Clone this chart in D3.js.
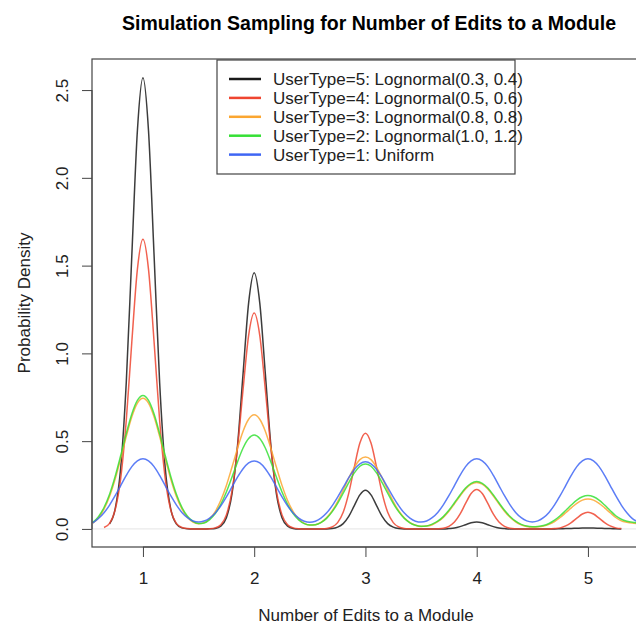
<!DOCTYPE html>
<html>
<head>
<meta charset="utf-8">
<script src="https://cdnjs.cloudflare.com/ajax/libs/d3/7.8.5/d3.min.js"></script>
<style>
  body { margin: 0; background: #fff; }
  text { font-family: "Liberation Sans", Arial, sans-serif; }
</style>
</head>
<body>
<script>
// sample positions along the x axis (every 0.05 from 0.55 to 5.45)
var xs = d3.range(99).map(function (i) { return +(0.55 + i * 0.05).toFixed(2); });

// density, one array per user type
var type5 = [null, null, null, 0.029, 0.113, 0.348, 0.834, 1.559, 2.268, 2.57,
    2.268, 1.559, 0.834, 0.348, 0.113, 0.029, 0.006, 0.001, 0, 0,
    0, 0.001, 0.003, 0.016, 0.064, 0.198, 0.474, 0.885, 1.288, 1.46,
    1.288, 0.885, 0.474, 0.198, 0.064, 0.016, 0.003, 0, 0, 0,
    0, 0, 0, 0.002, 0.010, 0.030, 0.071, 0.133, 0.194, 0.22,
    0.194, 0.133, 0.071, 0.030, 0.010, 0.002, 0, 0, 0, 0,
    0, 0, 0, 0, 0.002, 0.005, 0.013, 0.024, 0.035, 0.04,
    0.035, 0.024, 0.013, 0.005, 0.002, 0, 0, 0, 0, 0,
    0, 0, 0, 0, 0.001, 0.002, 0.003, 0.004, 0.005, 0.005,
    0.005, 0.004, 0.003, 0.002, 0.001, 0, null, null, null];

var type4 = [null, null, 0.008, 0.032, 0.108, 0.288, 0.618, 1.066, 1.479, 1.65,
    1.479, 1.066, 0.618, 0.288, 0.108, 0.032, 0.008, 0.002, 0, 0,
    0, 0.001, 0.006, 0.024, 0.080, 0.214, 0.461, 0.795, 1.103, 1.23,
    1.103, 0.795, 0.461, 0.214, 0.080, 0.024, 0.006, 0.001, 0, 0,
    0, 0.001, 0.003, 0.011, 0.036, 0.095, 0.204, 0.352, 0.489, 0.545,
    0.489, 0.352, 0.204, 0.095, 0.036, 0.011, 0.003, 0.001, 0, 0,
    0, 0, 0.001, 0.004, 0.015, 0.039, 0.084, 0.145, 0.202, 0.225,
    0.202, 0.145, 0.084, 0.039, 0.015, 0.004, 0.001, 0, 0, 0,
    0, 0, 0, 0.002, 0.006, 0.017, 0.036, 0.061, 0.085, 0.095,
    0.085, 0.061, 0.036, 0.017, 0.006, 0.002, null, null, null];

var type3 = [0.033, 0.063, 0.113, 0.186, 0.284, 0.402, 0.527, 0.639, 0.717, 0.745,
    0.717, 0.639, 0.527, 0.402, 0.284, 0.186, 0.114, 0.066, 0.039, 0.030,
    0.036, 0.058, 0.099, 0.163, 0.248, 0.351, 0.459, 0.557, 0.625, 0.65,
    0.625, 0.557, 0.459, 0.351, 0.248, 0.162, 0.099, 0.057, 0.032, 0.022,
    0.024, 0.037, 0.063, 0.102, 0.156, 0.221, 0.290, 0.351, 0.395, 0.41,
    0.395, 0.351, 0.290, 0.221, 0.156, 0.102, 0.062, 0.036, 0.021, 0.014,
    0.016, 0.024, 0.041, 0.066, 0.101, 0.143, 0.187, 0.227, 0.255, 0.265,
    0.255, 0.227, 0.187, 0.143, 0.101, 0.066, 0.040, 0.023, 0.014, 0.011,
    0.012, 0.016, 0.026, 0.042, 0.065, 0.092, 0.120, 0.146, 0.164, 0.17,
    0.164, 0.146, 0.120, 0.092, 0.065, 0.046, 0.038, 0.033, 0.031];

var type2 = [0.037, 0.070, 0.122, 0.198, 0.299, 0.418, 0.543, 0.655, 0.732, 0.76,
    0.732, 0.655, 0.543, 0.418, 0.299, 0.199, 0.123, 0.072, 0.043, 0.031,
    0.034, 0.053, 0.087, 0.140, 0.210, 0.294, 0.382, 0.461, 0.515, 0.535,
    0.515, 0.461, 0.382, 0.294, 0.210, 0.140, 0.087, 0.051, 0.030, 0.022,
    0.024, 0.036, 0.060, 0.097, 0.146, 0.204, 0.264, 0.319, 0.357, 0.37,
    0.357, 0.319, 0.264, 0.204, 0.146, 0.097, 0.060, 0.035, 0.021, 0.015,
    0.017, 0.027, 0.044, 0.070, 0.106, 0.149, 0.193, 0.233, 0.260, 0.27,
    0.260, 0.233, 0.193, 0.149, 0.106, 0.071, 0.044, 0.026, 0.016, 0.013,
    0.014, 0.019, 0.031, 0.050, 0.075, 0.105, 0.136, 0.164, 0.183, 0.19,
    0.183, 0.164, 0.136, 0.105, 0.075, 0.055, 0.044, 0.038, 0.035];

var type1 = [0.035, 0.059, 0.092, 0.136, 0.189, 0.247, 0.305, 0.355, 0.388, 0.40,
    0.388, 0.355, 0.305, 0.247, 0.189, 0.137, 0.094, 0.064, 0.045, 0.039,
    0.045, 0.062, 0.091, 0.132, 0.183, 0.239, 0.295, 0.343, 0.376, 0.387,
    0.376, 0.343, 0.295, 0.239, 0.183, 0.132, 0.091, 0.062, 0.044, 0.038,
    0.044, 0.061, 0.090, 0.131, 0.181, 0.236, 0.292, 0.339, 0.371, 0.382,
    0.371, 0.339, 0.292, 0.236, 0.181, 0.131, 0.090, 0.061, 0.044, 0.039,
    0.045, 0.064, 0.094, 0.137, 0.189, 0.247, 0.305, 0.355, 0.388, 0.40,
    0.388, 0.355, 0.305, 0.247, 0.189, 0.137, 0.094, 0.064, 0.046, 0.040,
    0.046, 0.064, 0.094, 0.137, 0.189, 0.247, 0.305, 0.355, 0.388, 0.40,
    0.388, 0.355, 0.305, 0.247, 0.189, 0.136, 0.092, 0.059, 0.040];

var seriesNames = ["UserType=5: Lognormal(0.3, 0.4)", "UserType=4: Lognormal(0.5, 0.6)",
    "UserType=3: Lognormal(0.8, 0.8)", "UserType=2: Lognormal(1.0, 1.2)", "UserType=1: Uniform"];
var seriesColors = ["#1a1a1a", "#ef4530", "#fba630", "#36e036", "#3f66f4"];
var xTicks = [1, 2, 3, 4, 5];
var yTicks = [0, 0.5, 1.0, 1.5, 2.0, 2.5];

var series = [type5, type4, type3, type2, type1];

var width = 636,
    height = 626;
var margin = { left: 92, top: 59, right: 640, bottom: 547 };
var fontSize = 17;

var svg = d3.select("body").append("svg")
    .attr("width", width)
    .attr("height", height);

var x = d3.scaleLinear().domain([0.542, 5.468]).range([margin.left, margin.right]);
var y = d3.scaleLinear().domain([-0.103, 2.677]).range([margin.bottom, margin.top]);

svg.append("clipPath")
    .attr("id", "plotclip")
    .append("rect")
    .attr("x", margin.left)
    .attr("y", margin.top)
    .attr("width", margin.right - margin.left)
    .attr("height", margin.bottom - margin.top);

// faint zero line
svg.append("line")
    .attr("x1", margin.left).attr("x2", margin.right)
    .attr("y1", y(0)).attr("y2", y(0))
    .attr("stroke", "#e4e4e4")
    .attr("stroke-width", 1);

var line = d3.line()
    .defined(function (d) { return d[1] !== null; })
    .x(function (d) { return x(d[0]); })
    .y(function (d) { return y(d[1]); })
    .curve(d3.curveMonotoneX);

svg.append("g")
    .attr("clip-path", "url(#plotclip)")
    .selectAll("path")
    .data(series)
    .enter().append("path")
    .attr("fill", "none")
    .attr("stroke", function (d, i) { return seriesColors[i]; })
    .attr("stroke-width", 1.5)
    .attr("stroke-opacity", 0.85)
    .attr("d", function (d) { return line(xs.map(function (v, i) { return [v, d[i]]; })); });

// plot box
svg.append("rect")
    .attr("x", margin.left)
    .attr("y", margin.top)
    .attr("width", margin.right - margin.left)
    .attr("height", margin.bottom - margin.top)
    .attr("fill", "none")
    .attr("stroke", "#444")
    .attr("stroke-width", 1.2);

// axes
var xAxis = d3.axisBottom(x).tickValues(xTicks).tickSize(10).tickPadding(15)
    .tickFormat(d3.format("d"));
var gx = svg.append("g")
    .attr("transform", "translate(0," + margin.bottom + ")")
    .call(xAxis);
gx.select(".domain")
    .attr("d", "M" + x(xTicks[0]) + ",0H" + x(xTicks[xTicks.length - 1]))
    .attr("stroke", "#444");
gx.selectAll(".tick line").attr("stroke", "#444");
gx.selectAll("text").attr("font-size", fontSize).attr("fill", "#222")
    .attr("font-family", "Liberation Sans, Arial, sans-serif");

var yAxis = d3.axisLeft(y).tickValues(yTicks).tickSize(10).tickFormat(d3.format(".1f"));
var gy = svg.append("g")
    .attr("transform", "translate(" + margin.left + ",0)")
    .call(yAxis);
gy.select(".domain")
    .attr("d", "M0," + y(yTicks[0]) + "V" + y(yTicks[yTicks.length - 1]))
    .attr("stroke", "#444");
gy.selectAll(".tick line").attr("stroke", "#444");
gy.selectAll("text")
    .attr("font-size", fontSize).attr("fill", "#222")
    .attr("font-family", "Liberation Sans, Arial, sans-serif")
    .attr("text-anchor", "middle")
    .attr("dy", null)
    .attr("x", null)
    .attr("transform", "translate(-24,0) rotate(-90)")
    .attr("y", 0);

// titles
svg.append("text")
    .attr("x", 369)
    .attr("y", 30)
    .attr("text-anchor", "middle")
    .attr("font-size", 19.5)
    .attr("font-weight", "bold")
    .text("Simulation Sampling for Number of Edits to a Module");

svg.append("text")
    .attr("x", (margin.left + margin.right) / 2)
    .attr("y", 621)
    .attr("text-anchor", "middle")
    .attr("font-size", fontSize)
    .attr("fill", "#222")
    .text("Number of Edits to a Module");

svg.append("text")
    .attr("transform", "translate(30," + (margin.top + margin.bottom) / 2 + ") rotate(-90)")
    .attr("text-anchor", "middle")
    .attr("font-size", fontSize)
    .attr("fill", "#222")
    .text("Probability Density");

// legend
var legend = svg.append("g");
legend.append("rect")
    .attr("x", 217)
    .attr("y", margin.top + 1)
    .attr("width", 298)
    .attr("height", 114)
    .attr("fill", "#fff")
    .attr("stroke", "#444")
    .attr("stroke-width", 1.2);

var item = legend.selectAll(".item")
    .data(seriesNames)
    .enter().append("g")
    .attr("class", "item")
    .attr("transform", function (d, i) { return "translate(229," + (79 + i * 18.9) + ")"; });

item.append("line")
    .attr("x1", 0).attr("x2", 32)
    .attr("stroke", function (d, i) { return seriesColors[i]; })
    .attr("stroke-width", 2.5);

item.append("text")
    .attr("x", 44)
    .attr("dy", "0.35em")
    .attr("font-size", fontSize)
    .attr("fill", "#222")
    .text(function (d) { return d; });
</script>
</body>
</html>
